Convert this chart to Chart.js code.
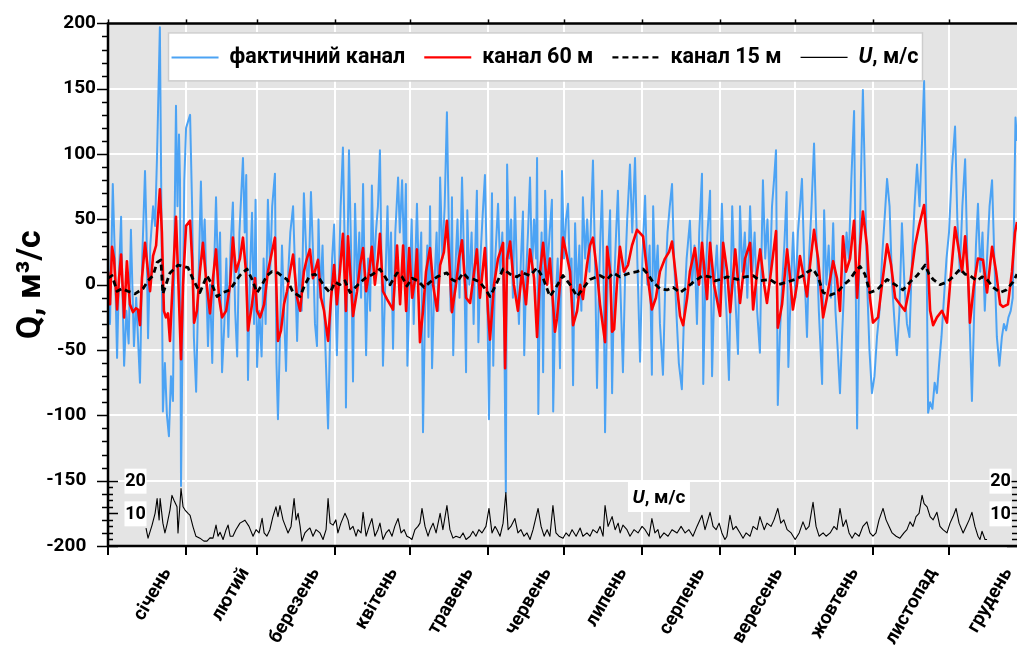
<!DOCTYPE html>
<html>
<head>
<meta charset="utf-8">
<script src="https://cdn.jsdelivr.net/npm/chart.js@4.4.1/dist/chart.umd.min.js"></script>
<style>
  html, body { margin: 0; padding: 0; background: #fff; }
  #wrap { width: 1017px; height: 646px; position: relative; }
</style>
</head>
<body>
<div id="wrap"><canvas id="flowChart"></canvas></div>
<script>
// [day of year, Q m3/s]
const actualChannel = [[0,26],[0.8,-30],[1.9,77],[2.6,30],[3.6,-56],[4.4,10],[5.2,52],[5.8,-10],[6.4,-62],[7.3,-20],[8.2,-45],[9.1,42],[10.3,-47],[11.2,-10],[12.7,-75],[13.6,20],[14.7,87],[15.3,40],[15.9,-41],[16.8,30],[17.9,60],[18.7,45],[19.5,100],[20.6,197],[21.2,60],[21.8,-97],[22.6,-60],[23.4,-100],[24.2,-116],[25,-70],[25.8,-89],[26.4,40],[27,137],[27.6,60],[28.2,115],[28.6,80],[29,-154],[29.6,-40],[30.3,80],[31,120],[31.8,125],[32.6,130],[33.4,60],[34.1,-40],[35,-82],[35.8,-10],[36.9,79],[37.6,20],[38.4,50],[39.7,-47],[40.5,0],[41.4,-60],[42.1,10],[42.9,67],[43.8,0],[44.5,40],[45.3,-67],[46.2,-30],[47,20],[47.8,-40],[48.7,30],[49.6,63],[50.5,-20],[51.3,-55],[52.2,40],[53.6,97],[54.3,40],[54.9,84],[55.6,-73],[56.4,10],[57.2,55],[58,-30],[58.6,65],[59.2,-63],[60.1,-20],[61,-55],[61.8,20],[62.6,-30],[63.5,65],[64.4,10],[65.2,60],[66.3,85],[66.9,-60],[67.5,-103],[68.3,-40],[69.1,30],[69.9,-20],[70.7,-66],[71.6,10],[72.4,40],[73.5,60],[74.3,10],[75.1,-43],[76,20],[76.9,-20],[77.8,70],[78.6,30],[79.5,-10],[80.6,71],[81.5,20],[82.2,-30],[83,-47],[83.6,50],[84.3,-10],[85.2,30],[86.2,-40],[87.4,-110],[88.3,-30],[89,20],[89.8,46],[90.9,-54],[91.6,0],[92.4,60],[93.3,105],[94,30],[94.5,-94],[95.1,20],[95.7,103],[96.5,30],[97.3,-74],[98.1,62],[99,0],[99.8,40],[100.5,-10],[101.3,77],[101.9,10],[102.5,-54],[103.3,20],[104.1,-20],[104.8,76],[105.6,10],[106.4,40],[107.2,60],[108,103],[108.6,20],[109.2,-62],[110.1,0],[111,60],[111.7,0],[112.4,40],[113.2,-49],[114.1,40],[115.2,82],[115.9,40],[116.8,80],[117.6,20],[118.3,77],[118.9,-62],[119.8,0],[120.6,50],[121.4,-30],[122.1,20],[122.7,62],[123.5,0],[124.4,40],[125.1,-113],[125.9,-20],[126.8,30],[127.3,-40],[127.9,60],[128.7,-64],[129.6,0],[130.5,40],[131.2,-20],[131.9,82],[132.8,20],[133.7,60],[134.6,132],[135.4,40],[136.1,-20],[136.6,67],[137.1,-54],[137.9,10],[138.8,50],[139.6,-10],[140.6,82],[141.4,20],[142.2,-67],[142.7,57],[143.5,0],[144.4,40],[145.2,-30],[145.9,30],[146.5,72],[147.1,-44],[147.9,20],[148.7,50],[149.7,84],[150.5,10],[151.3,-103],[152,0],[152.5,70],[153,-62],[153.8,20],[154.9,62],[155.8,10],[156.6,40],[157.4,-40],[158,-159],[158.5,92],[159.3,20],[160.1,50],[160.8,-10],[161.6,67],[162.4,10],[163.2,-30],[164,20],[164.8,56],[165.3,-54],[166.1,10],[166.8,40],[167.6,82],[168.4,10],[169.2,50],[170,20],[170.4,97],[170.9,-99],[171.6,0],[172.2,40],[172.8,-67],[173.6,72],[174.5,10],[175.4,40],[176.3,65],[176.8,-97],[177.6,-20],[178.6,20],[179.5,-64],[180.3,87],[181.1,20],[181.9,50],[182.7,62],[183.5,0],[184.1,20],[184.7,-77],[185.5,47],[186.4,-10],[187.2,30],[188,-20],[188.6,67],[189.5,20],[190.3,50],[191.2,10],[192,60],[192.6,95],[193.4,20],[194.2,-79],[195,0],[195.6,40],[196.2,72],[196.8,10],[197.4,-113],[198.2,-20],[198.8,30],[199.4,57],[200.2,-83],[201,0],[201.8,40],[202.5,72],[203.3,10],[204.5,-67],[205.4,10],[206.2,50],[207.3,92],[208.2,40],[209.3,97],[210.2,20],[211.3,-59],[212.2,20],[213.3,68],[214.2,0],[215.1,30],[216,-69],[216.5,60],[217.4,0],[218.3,30],[219.2,-30],[220.4,-69],[221.3,0],[222.2,40],[223.1,60],[224,77],[224.8,20],[225.7,-20],[226.7,-60],[227.9,-80],[228.8,-20],[229.8,20],[231.1,49],[232,0],[232.9,30],[233.9,-30],[234.8,40],[235.9,85],[236.4,-76],[237.2,0],[238.1,40],[239.1,72],[239.9,-70],[240.8,0],[241.8,30],[242.8,-20],[243.8,62],[244.7,10],[245.6,-20],[246.6,-73],[247.3,0],[247.9,60],[248.9,0],[250.2,-53],[251,60],[251.9,10],[252.9,40],[253.9,-10],[255,60],[255.9,10],[256.8,40],[257.8,-20],[258.9,-52],[259.5,20],[260.1,80],[261,20],[261.9,50],[262.8,0],[263.7,60],[264.5,80],[265.3,103],[266,-92],[266.8,-40],[267.7,0],[268.6,30],[269.5,71],[270.2,-63],[271.2,0],[272.1,40],[273,-10],[274,40],[274.8,60],[275.6,81],[276.6,10],[277.6,-40],[278.4,20],[279.4,60],[280.4,108],[281.3,40],[282.3,-20],[283.6,-76],[284.4,57],[285.3,0],[286.2,30],[287.1,-10],[288,47],[288.9,-20],[289.8,-50],[290.7,-83],[291.5,-40],[292.4,0],[293.3,40],[294.2,20],[295.2,80],[296.3,133],[297.5,-110],[298.2,0],[299,80],[299.8,149],[300.6,80],[301.5,0],[302.4,-50],[303.4,-83],[304.4,-70],[305.4,-40],[306.4,-20],[307.4,20],[308.4,50],[309.4,81],[310.4,60],[311.4,0],[312.4,-30],[313.3,-54],[314.3,-20],[315.3,47],[316.3,0],[317.3,-30],[318.3,-40],[319.3,20],[320.3,60],[321.3,92],[322.3,60],[323.3,110],[324.1,156],[324.9,60],[325.7,-98],[326.5,-90],[327.4,-95],[328.3,-75],[329.2,-83],[330.1,-60],[331,-40],[332,-10],[333,20],[334,40],[335.2,90],[336.4,121],[337.3,50],[338.3,10],[339.3,60],[340.4,96],[341.3,20],[342.2,-30],[343.1,-89],[344,-20],[344.7,30],[345.5,62],[346.4,10],[347.3,40],[348.2,-20],[349.1,20],[350.1,60],[351.1,80],[352,20],[353,-40],[354,-62],[355,-40],[355.8,-30],[356.7,-35],[357.6,-25],[358.5,-20],[359.3,-10],[359.9,60],[360.4,128],[361,110]];

const channel60 = [[0,10],[0.8,-15],[1.6,29],[2.4,20],[3.6,-19],[4.4,5],[5.2,23],[6.4,-25],[7.5,18],[8.7,-15],[9.9,-21],[11.1,-18],[11.9,-19],[12.7,-31],[13.5,5],[14.7,32],[15.9,10],[16.7,-5],[17.9,22],[19.1,30],[20.6,73],[21.4,40],[22.2,-20],[23,-25],[23.8,-22],[24.6,-43],[25.4,-10],[27,52],[27.8,10],[29,-57],[29.8,0],[31,45],[32.6,49],[33.4,20],[34.2,-29],[35.3,-20],[36.5,10],[37.7,32],[38.9,5],[40.5,-22],[41.7,5],[42.9,27],[44.1,-10],[45.3,-25],[46.9,-20],[48.5,0],[49.6,36],[50.8,10],[52.4,20],[53.6,36],[54.8,10],[55.6,-35],[57.2,-15],[58.4,5],[59.2,-20],[60.4,-25],[62,-15],[63.5,10],[65.1,25],[66.3,36],[67.5,-43],[68.7,-35],[69.9,-15],[71.1,-5],[72.3,10],[73.5,23],[75.1,-10],[76.3,-20],[77.8,10],[79,20],[80.2,27],[81.4,5],[83.4,19],[84.6,-10],[85.8,-20],[87.4,-43],[88.6,-10],[89.8,15],[90.9,-15],[92.1,10],[93.3,39],[94.5,-20],[95.3,37],[96.5,0],[97.3,-24],[98.9,-5],[100.1,15],[101.3,28],[102.5,-5],[103.7,10],[104.8,29],[106,0],[107.2,20],[108,39],[109.2,-5],[110.8,-11],[112,-15],[113.2,-19],[114.8,30],[116,-15],[117.2,30],[118.4,-20],[119.6,28],[120.8,-10],[122,5],[122.7,27],[123.9,-44],[125.1,-20],[126.3,10],[127.9,28],[129.1,0],[130.7,-20],[131.9,15],[133.4,25],[134.6,49],[135.8,10],[136.6,-21],[138.2,0],[139.4,20],[140.6,34],[142.2,-10],[143.8,-14],[145.4,10],[146.5,27],[147.7,-10],[149.7,28],[150.9,-20],[151.7,-42],[153.3,0],[154.9,20],[156.9,32],[157.7,-64],[158.5,20],[159.7,33],[161.2,0],[162.8,-20],[164.4,10],[166,-15],[167.6,27],[169.2,5],[170.4,-40],[171.6,10],[172.8,32],[174.4,0],[175.5,20],[177.5,-36],[178.3,-26],[179.5,0],[180.7,36],[181.9,25],[183.5,10],[184.7,-31],[186.3,-20],[187.5,0],[188.6,-11],[190.2,15],[191.4,30],[192.6,36],[194.2,10],[195.4,-15],[197.4,-44],[198.2,29],[199.4,10],[200.2,-36],[201,-34],[202.1,0],[203.3,29],[204.9,10],[206.5,15],[208.1,30],[210.1,42],[212.5,37],[214.1,10],[216,-19],[217.6,-10],[219.2,10],[221.2,20],[222.8,25],[224,33],[225.6,5],[227.2,-24],[228.4,-31],[230,-10],[231.1,10],[233.1,28],[234.7,0],[235.9,32],[237.9,-11],[239.1,32],[240.7,0],[243.1,-24],[244.3,32],[245.9,10],[247.1,-21],[249.1,27],[251,-14],[253,20],[255,32],[256.2,-19],[257.8,10],[259,27],[260.6,0],[261.7,-14],[263.3,10],[265.3,41],[266,-33],[267.7,-15],[269.7,27],[270.9,5],[272,-19],[273.6,0],[274.8,22],[276.4,5],[277.6,-9],[278.8,15],[280.4,42],[282,20],[284,-25],[285.5,-10],[288,18],[289.5,5],[290.7,-20],[291.9,37],[293.1,10],[294.7,20],[296.3,49],[297.5,-10],[298.7,30],[299.8,56],[301.4,30],[302.6,-10],[303.8,-29],[305.8,-25],[307.4,0],[309.4,31],[311,15],[312.6,-10],[314.5,-15],[316.5,-20],[318.5,0],[320.5,30],[322.1,45],[324.1,61],[325.3,30],[326.5,-20],[327.7,-31],[329.2,-25],[331.2,-20],[333.2,-29],[334.4,0],[336.4,44],[337.6,30],[339.2,10],[340.4,37],[341.6,5],[342.3,-29],[343.9,0],[345.5,20],[347.5,19],[349.1,-6],[351.1,29],[352.7,10],[354.3,-15],[355.4,-17],[357.4,-15],[359,10],[360.2,40],[361,48]];

const channel15 = [[0,5],[1.6,7],[3.6,-5],[5.6,-3],[7.9,-5],[10.7,-7],[13.9,-3],[15.9,3],[17.9,7],[19.5,17],[21,19],[21.8,-7],[23,0],[24.6,9],[26.2,12],[27.8,15],[29.8,14],[31.8,13],[33.8,4],[36.5,-6],[39.3,7],[41.3,0],[43.3,-9],[45.7,-6],[48.5,-4],[50.8,3],[52.8,8],[55.2,12],[57.2,4],[59.2,-6],[61.2,0],[63.1,7],[65.1,10],[67.5,9],[69.5,6],[71.1,4],[73.5,-6],[76.3,-9],[78.2,0],[80.2,7],[82.2,8],[84.2,4],[86.2,-2],[88.2,-6],[90.2,2],[92.1,0],[94.1,3],[96.1,-6],[99.3,0],[102.1,5],[105.2,8],[108,12],[110,6],[112,0],[114.8,9],[116.8,6],[118.7,-1],[120.8,5],[123.1,3],[125.5,-2],[127.9,2],[130.7,6],[133,8],[134.6,9],[136.6,4],[138.6,2],[141,9],[143,5],[145.4,4],[147.7,2],[149.7,-3],[151.7,-9],[154.1,0],[156.9,12],[159.7,8],[162.4,6],[164.8,9],[167.6,7],[170.4,13],[172.8,5],[175.5,-9],[177.9,-2],[180.7,7],[183.5,0],[186.3,-9],[188.6,-3],[191.4,4],[195.4,7],[198.2,4],[200.6,9],[203.3,6],[207.3,9],[210.1,10],[212.5,12],[214.5,8],[216.4,2],[219.2,-3],[222,-4],[224.4,-2],[227.2,-6],[230,-2],[233.1,3],[236.3,7],[239.1,6],[241.1,3],[243.1,4],[245.9,6],[249.9,4],[253,6],[256.2,7],[258.9,3],[262.9,4],[266,0],[269.7,2],[272.9,4],[276,7],[278,10],[280,12],[282,6],[284,-6],[286.8,-8],[289.5,-6],[292.3,0],[294.7,4],[296.7,10],[298.7,14],[300.6,8],[302.6,-6],[305.4,-4],[309.4,4],[312.6,0],[315.7,-4],[318.5,2],[321.3,7],[324.5,15],[326.1,8],[327.7,4],[330.4,0],[333.2,2],[335.6,6],[338.4,12],[340.4,8],[342.3,7],[345.1,3],[347.1,6],[349.1,4],[351.5,-2],[354.3,-6],[356.7,-4],[359.4,2],[361,8]];

// [day of year, wind speed m/s]
const windSpeed = [[15.1,5.5],[15.9,2.4],[17.5,6.4],[18.7,10],[19.5,14.5],[20.3,8],[20.7,14.5],[21.8,7],[22.6,4],[23.4,6.5],[24.6,11],[25.4,15.5],[26.2,14],[27.4,12],[27.8,4],[29,17.6],[29.8,12],[30.6,11],[31.8,10],[32.6,9.4],[33.8,5.8],[34.9,3],[36.5,2.4],[38.1,1.5],[39.3,1.5],[40.5,2.5],[41.7,2.4],[42.9,6.4],[43.7,3],[44.5,4.2],[45.7,2],[46.9,5],[47.7,6.4],[48.5,3],[49.6,3],[50.8,5],[52.4,7],[54.4,7.9],[56,6],[57.6,3],[58.8,5],[60,4],[61.2,8.5],[62,4],[63.1,3],[64.3,5],[65.5,9],[66.7,12],[67.5,9],[68.3,12.4],[69.5,8],[70.3,6.4],[71.5,4],[72.7,6],[73.9,14.5],[74.7,8],[75.5,10],[76.3,6],[77,1.5],[78.2,4],[79.4,5],[80.2,5.5],[81.4,3],[82.6,5],[84.2,4],[85.4,2],[86.6,5],[87.4,14.5],[88.2,7],[89.4,6.4],[90.5,8],[91.3,4],[92.5,7],[94.1,10],[95.3,8],[96.1,5],[97.3,6],[98.5,3],[99.3,5],[100.5,4],[101.3,10.3],[102.5,3],[103.7,6],[104.8,8.4],[106,3],[107.2,5],[108,7],[109.2,2],[110.4,4],[111.6,5],[112.8,3],[113.9,6],[115.2,8.4],[116.4,4],[117.6,5],[118.7,3],[119.9,2.5],[120.7,2],[121.9,5],[123.1,6],[123.9,7],[124.7,11.5],[125.9,6],[127.1,3],[127.9,5],[129.1,7],[130.3,4],[131.9,10],[133,5],[134.6,12.4],[135.8,5],[137,2.4],[138.2,3],[139.8,2.5],[141,4],[142.2,2],[143.8,3],[144.9,4.5],[146.1,3],[147.3,5],[148.5,4],[150.1,6],[151.3,11.5],[152.5,4],[153.7,6],[154.5,5],[155.7,3],[156.9,7],[158,16.4],[158.9,5],[160,6],[161.6,8.4],[162.8,4],[164,5],[165.2,3],[166.4,4],[167.6,2],[168.8,5],[170.8,11.5],[172,6],[173.2,3],[174.4,5],[175.5,3],[176.7,12.4],[177.9,4],[179.1,3],[180.7,2.4],[181.9,4],[183.1,3],[184.3,5],[185.9,3],[187.5,5.5],[188.6,3],[190.2,4],[191.4,3],[192.6,5],[194.2,4],[195.4,6],[196.6,3],[197.4,12.4],[198.6,6],[200.2,9],[201.4,5],[202.6,7],[203.4,4],[204.5,6.4],[206.1,5],[207.3,3],[208.9,5],[210.5,4],[212.1,6],[213.3,5],[214.9,3],[216,8.4],[217.2,4],[218.4,5],[219.2,2.4],[220.8,4],[222.4,3],[224,5],[226,4],[227.6,6],[229.2,4],[230.7,5],[232.3,3],[233.9,6],[235.9,9.4],[237.1,5],[239.1,10.3],[240.3,6],[241.5,5],[242.7,7],[243.8,4],[245,2],[245.8,3],[247,9.4],[248.2,5],[249.4,6],[251,4],[252.2,2.4],[253.4,4],[255,3],[256.2,6],[257.8,5],[258.9,9],[260.6,5],[261.7,7],[263.3,6],[264.5,8],[266,11.5],[267.2,7],[268.4,8],[269.7,5],[271.3,4],[272.9,2],[274.5,4],[276,7.4],[277.2,5],[278.4,6],[280,13.4],[281.2,6],[282.4,3],[284,4],[285.2,3],[286.8,4],[288.3,6],[289.5,5],[290.7,11.5],[291.9,6],[293.1,8],[294.3,4],[295.5,2.4],[296.7,4],[298.3,3],[299.8,6],[301.4,7.4],[302.6,4],[303.8,3],[305,4],[306.2,8],[307.8,11.5],[309,8],[310.2,6],[311.4,4],[313,3],[314.5,2.4],[316.1,4],[317.3,5],[318.5,7.4],[319.7,6],[320.9,9],[322.1,10],[323.3,15.5],[324.1,13],[325.3,12],[326.5,9],[327.7,8],[329.2,10.3],[330.4,6],[331.6,5],[333.2,4],[334.4,7],[335.6,9],[336.8,11.5],[338,7],[339.6,4],[340.8,6],[342,8],[343.1,10.3],[344.3,6],[345.5,3],[346.3,2],[347.1,4.5],[348.3,2],[349.1,2]];

const months = ['січень', 'лютий', 'березень', 'квітень', 'травень', 'червень',
                'липень', 'серпень', 'вересень', 'жовтень', 'листопад', 'грудень'];
const monthStart = [0, 31, 59, 90, 120, 151, 181, 212, 243, 273, 304, 334];
const uLabels = [10, 20];

const FONT = "Roboto, 'Open Sans', sans-serif";
const labelShift = 23.5;   // month name sits near the end of its month

const toPoints = rows => rows.map(r => ({x: r[0], y: r[1]}));

function seg(ctx, x1, y1, x2, y2) {
    ctx.beginPath();
    ctx.moveTo(x1, y1);
    ctx.lineTo(x2, y2);
    ctx.stroke();
}

// Plot background, frame, extra ticks, wind labels and boxed legend
const plotDecor = {
    id: 'plotDecor',
    beforeDraw(chart) {
        const {ctx, chartArea: a} = chart;
        ctx.save();
        ctx.fillStyle = '#e4e4e4';
        ctx.fillRect(a.left, a.top, a.right - a.left, a.bottom - a.top);
        ctx.restore();
    },
    afterDatasetsDraw(chart) {
        const {ctx, chartArea: a, scales} = chart;
        const xs = scales.x, ys = scales.y, us = scales.yU;
        ctx.save();
        ctx.strokeStyle = '#000';
        ctx.lineWidth = 1.5;

        // minor and major ticks left of the Q axis
        for (let v = -200; v <= 200; v += 10) {
            const py = Math.round(ys.getPixelForValue(v)) + 0.5;
            const len = v % 50 === 0 ? 11 : 6;
            seg(ctx, a.left - len, py, a.left, py);
        }
        // wind speed ticks inside the plot
        for (let u = 0; u <= 20; u += 2) {
            const py = Math.round(us.getPixelForValue(u)) + 0.5;
            const len = u % 10 === 0 ? 10 : 5;
            seg(ctx, a.left, py, a.left + len, py);
            seg(ctx, a.right - len, py, a.right, py);
        }
        // short ticks above the top border
        monthStart.forEach(d => {
            const px = Math.round(xs.getPixelForValue(d)) + 0.5;
            seg(ctx, px, a.top - 4, px, a.top);
        });

        ctx.lineWidth = 2.5;
        ctx.beginPath();
        ctx.moveTo(a.right, a.top);
        ctx.lineTo(a.left, a.top);
        ctx.lineTo(a.left, a.bottom);
        ctx.lineTo(a.right, a.bottom);
        ctx.stroke();

        // wind speed scale labels on both sides
        ctx.font = `bold 18px ${FONT}`;
        ctx.textAlign = 'center';
        ctx.textBaseline = 'middle';
        uLabels.forEach(u => {
            const py = us.getPixelForValue(u);
            [a.left + 27.5, a.right - 16.5].forEach(cx => {
                ctx.fillStyle = '#fff';
                ctx.fillRect(cx - 11, py - 12, 22, 25);
                ctx.fillStyle = '#000';
                ctx.fillText(String(u), cx, py + 1);
            });
        });

        // series name over the wind curve
        const tx = xs.getPixelForValue(218.8), ty = us.getPixelForValue(15);
        ctx.fillStyle = '#fff';
        ctx.fillRect(tx - 31, ty - 15, 62, 30);
        ctx.fillStyle = '#000';
        ctx.textAlign = 'left';
        ctx.font = `italic bold 19px ${FONT}`;
        const uW = ctx.measureText('U').width;
        ctx.font = `bold 19px ${FONT}`;
        const restW = ctx.measureText(', м/с').width;
        let sx = tx - (uW + restW) / 2;
        ctx.font = `italic bold 19px ${FONT}`;
        ctx.fillText('U', sx, ty + 1);
        ctx.font = `bold 19px ${FONT}`;
        ctx.fillText(', м/с', sx + uW, ty + 1);
        ctx.restore();
    },
    afterDraw(chart) {
        const {ctx, chartArea: a} = chart;
        const box = {x: a.left + 60, y: a.top + 9, w: 754, h: 48};
        const lineLen = 47, gapText = 11, gapItem = 19;
        const fontN = `bold 21.5px ${FONT}`, fontI = `italic bold 21.5px ${FONT}`;
        ctx.save();
        ctx.fillStyle = '#fff';
        ctx.fillRect(box.x, box.y, box.w, box.h);
        ctx.strokeStyle = '#cdcdcd';
        ctx.lineWidth = 1.5;
        ctx.strokeRect(box.x + 0.5, box.y + 0.5, box.w, box.h);

        const items = chart.data.datasets.map(ds => {
            ctx.font = fontN;
            let w = ctx.measureText(ds.label).width;
            if (ds.label.startsWith('U')) {
                ctx.font = fontI;
                w = ctx.measureText('U').width;
                ctx.font = fontN;
                w += ctx.measureText(ds.label.slice(1)).width;
            }
            return {ds, w};
        });
        const total = items.reduce((s, it) => s + lineLen + gapText + it.w, 0) + gapItem * (items.length - 1);
        let x = box.x + (box.w - total) / 2;
        const cy = box.y + box.h / 2 + 1;
        ctx.textBaseline = 'middle';
        ctx.textAlign = 'left';
        items.forEach(({ds, w}) => {
            ctx.strokeStyle = ds.borderColor;
            ctx.lineWidth = Math.min(ds.borderWidth, 2.2);
            ctx.setLineDash(ds.borderDash || []);
            seg(ctx, x, cy, x + lineLen, cy);
            ctx.setLineDash([]);
            let tx = x + lineLen + gapText;
            ctx.fillStyle = '#000';
            if (ds.label.startsWith('U')) {
                ctx.font = fontI;
                ctx.fillText('U', tx, cy);
                tx += ctx.measureText('U').width;
                ctx.font = fontN;
                ctx.fillText(ds.label.slice(1), tx, cy);
            } else {
                ctx.font = fontN;
                ctx.fillText(ds.label, tx, cy);
            }
            x += lineLen + gapText + w + gapItem;
        });
        ctx.restore();
    }
};

const isMonthEdge = v => monthStart.includes(v);

new Chart(document.getElementById('flowChart'), {
    type: 'line',
    data: {
        datasets: [
            {label: 'фактичний канал', data: toPoints(actualChannel), borderColor: '#4ca3f4', borderWidth: 2, order: 3},
            {label: 'канал 60 м', data: toPoints(channel60), borderColor: '#ff0000', borderWidth: 2.6, order: 2},
            {label: 'канал 15 м', data: toPoints(channel15), borderColor: '#000000', borderWidth: 2.8, borderDash: [6, 4], order: 1},
            {label: 'U, м/с', data: toPoints(windSpeed), borderColor: '#000000', borderWidth: 1.1, yAxisID: 'yU', order: 0}
        ]
    },
    options: {
        responsive: true,
        maintainAspectRatio: false,
        animation: false,
        layout: {padding: {top: 18, right: 0, bottom: 0, left: 0}},
        elements: {
            point: {radius: 0},
            line: {tension: 0, borderJoinStyle: 'round'}
        },
        plugins: {
            legend: {display: false},
            tooltip: {enabled: false}
        },
        scales: {
            x: {
                type: 'linear',
                min: 0,
                max: 361,
                afterBuildTicks(scale) {
                    const vals = monthStart.concat(monthStart.map(d => d + labelShift));
                    scale.ticks = vals.sort((p, q) => p - q).map(v => ({value: v}));
                },
                afterFit(scale) {
                    scale.height = 100;
                    scale.paddingLeft = 0;
                    scale.paddingRight = 0;
                },
                ticks: {
                    autoSkip: false,
                    minRotation: 60,
                    maxRotation: 60,
                    padding: 9,
                    color: '#000',
                    font: {family: FONT, size: 19, weight: 'bold'},
                    callback(value) {
                        const i = monthStart.indexOf(value - labelShift);
                        return i >= 0 ? months[i] : '';
                    }
                },
                grid: {
                    color: c => isMonthEdge(c.tick.value) ? '#ffffff' : 'rgba(0,0,0,0)',
                    lineWidth: 2,
                    tickLength: 9,
                    tickWidth: 2,
                    tickColor: c => isMonthEdge(c.tick.value) ? '#000000' : 'rgba(0,0,0,0)'
                },
                border: {display: false}
            },
            y: {
                min: -200,
                max: 200,
                afterFit(scale) {
                    scale.width = 108;
                },
                ticks: {
                    stepSize: 50,
                    padding: 12,
                    color: '#000',
                    font: {family: FONT, size: 19, weight: 'bold'},
                    callback: v => v < 0 ? v + '\u2002' : String(v)
                },
                grid: {color: '#ffffff', lineWidth: 2, drawTicks: false},
                border: {display: false},
                title: {
                    display: true,
                    text: 'Q, м³/с',
                    color: '#000',
                    font: {family: FONT, size: 34, weight: 'bold'},
                    padding: {top: 11, bottom: 0}
                }
            },
            yU: {
                display: false,
                min: 0,
                max: 160
            }
        }
    },
    plugins: [plotDecor]
});
</script>
</body>
</html>
